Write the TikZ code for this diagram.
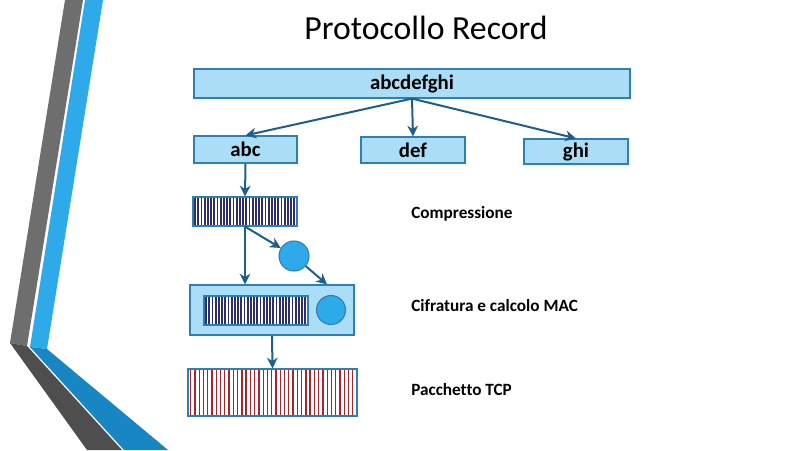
\documentclass[tikz,border=0pt]{standalone}
\usepackage{fontspec}
\setmainfont[Ligatures=NoCommon]{Carlito}
\usetikzlibrary{arrows.meta}
\definecolor{boxfill}{HTML}{ABDDF6}
\definecolor{boxline}{HTML}{2C80B4}
\definecolor{arrowcol}{HTML}{1D5F8A}
\definecolor{navystripe}{HTML}{2E2D6E}
\definecolor{redstripe}{HTML}{A3262B}
\definecolor{bandgray}{HTML}{6E6E6E}
\definecolor{banddark}{HTML}{4E4E4E}
\definecolor{bandblue}{HTML}{2EA9E9}
\definecolor{banddeep}{HTML}{1786C3}
\definecolor{dotblue}{HTML}{2EA9E9}
\begin{document}
\begin{tikzpicture}[x=0.75pt,y=-0.75pt,
    block/.style={draw=boxline,fill=boxfill,line width=0.9pt,inner sep=0pt,font=\bfseries\fontsize{15.6}{18}\selectfont},
    dot/.style={circle,draw=boxline,fill=dotblue,line width=0.8pt,inner sep=0pt},
    flow/.style={-{Stealth[length=8pt,width=8pt,inset=2.5pt]},draw=arrowcol,line width=1.5pt},
    caption/.style={anchor=west,inner sep=0pt,font=\bfseries\fontsize{12.9}{15}\selectfont}]
    \useasboundingbox (0,0) rectangle (800,450);
    % decorazione a sinistra
    \fill[bandgray] (65,0) -- (83,0) -- (27,346) -- (10,343) -- cycle;
    \fill[banddark] (10,343) -- (27,346) -- (122,450) -- (87,450) -- cycle;
    \fill[bandblue] (85,0) -- (103,0) -- (47,349) -- (30,347) -- cycle;
    \fill[banddeep] (30,347) -- (47,349) -- (168,450) -- (124,450) -- cycle;
    % titolo
    \node (title) at (426,28) {\fontsize{25.3}{28}\selectfont Protocollo Record};
    % blocchi
    \node[block,minimum width=327pt,minimum height=21.75pt] (msg) at (412,83.5) {abcdefghi};
    \node[block,minimum width=77.25pt,minimum height=20.25pt] (abc) at (245.5,149.5) {abc};
    \node[block,minimum width=78pt,minimum height=19.5pt] (def) at (413,150) {def};
    \node[block,minimum width=78pt,minimum height=18.75pt] (ghi) at (576,151.5) {ghi};
    \node[block,minimum width=78pt,minimum height=21.75pt,fill=white,
          path picture={\foreach \i in {0,...,32}
            \draw[navystripe,line width=1.3pt] ([xshift=1.6pt+\i*2.4pt]path picture bounding box.north west) -- ++(0,-30pt);}] (comp) at (245,211.5) {};
    \node[dot,minimum size=22.5pt] (mac1) at (294,256) {};
    \node[block,minimum width=123pt,minimum height=37.5pt] (frame) at (272,310) {};
    \node[block,minimum width=78pt,minimum height=21.75pt,fill=white,
          path picture={\foreach \i in {0,...,32}
            \draw[navystripe,line width=1.3pt] ([xshift=1.6pt+\i*2.4pt]path picture bounding box.north west) -- ++(0,-30pt);}] (enc) at (256,310.5) {};
    \node[dot,minimum size=21.75pt] (mac2) at (331,310) {};
    \node[block,minimum width=126.75pt,minimum height=35.25pt,fill=white,
          path picture={\foreach \i in {0,...,39}
            \draw[redstripe,line width=1pt] ([xshift=2pt+\i*3.2pt]path picture bounding box.north west) -- ++(0,-40pt);}] (tcp) at (272.5,392.5) {};
    % didascalie
    \node[caption] (lcomp) at (411,213.5) {Compressione};
    \node[caption] (lenc) at (411,305.5) {Cifratura e calcolo MAC};
    \node[caption] (ltcp) at (411,389.5) {Pacchetto TCP};
    % frecce
    \draw[flow] (msg.south) -- (abc.north);
    \draw[flow] (msg.south) -- (def.north);
    \draw[flow] (msg.south) -- (ghi.north);
    \draw[flow] (abc.south) -- (comp.north);
    \draw[flow] (comp.south) -- (comp.south |- frame.north);
    \draw[flow] (comp.south) -- (mac1);
    \draw[flow] (mac1) -- ([xshift=-3pt]mac2.north |- frame.north);
    \draw[flow] (frame.south) -- (tcp.north);
\end{tikzpicture}
\end{document}
